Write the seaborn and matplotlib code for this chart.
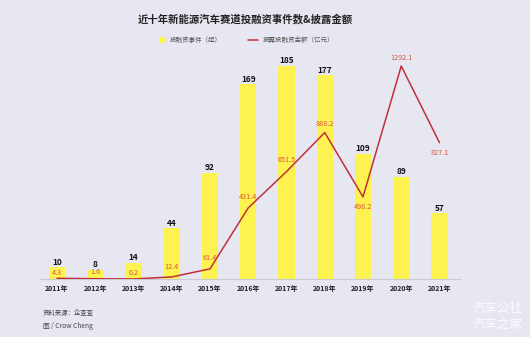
import numpy as np
import pandas as pd
import matplotlib
matplotlib.use("Agg")
import matplotlib.pyplot as plt
import seaborn as sns
from matplotlib.patches import Patch
from matplotlib.lines import Line2D

# ---- data ----
years = ["2011年", "2012年", "2013年", "2014年", "2015年", "2016年",
         "2017年", "2018年", "2019年", "2020年", "2021年"]
deal_counts = [10, 8, 14, 44, 92, 169, 185, 177, 109, 89, 57]
amounts = [4.3, 1.6, 0.2, 12.4, 61.4, 431.4, 651.5, 888.2, 498.2, 1292.1, 827.1]

title = "近十年新能源汽车赛道投融资事件数&披露金额"
bar_legend = "投融资事件（起）"
line_legend = "披露投融资金额（亿元）"
source_lines = ["资料来源：企查查", "图 / Crow Cheng"]
watermark = ["汽车公社", "汽车之家"]

BG = "#e7e7f1"
BAR = "#fdf24f"
LINE = "#c0303a"
LINE_TXT = "#d9553e"

# vertical offsets (points) of the amount labels relative to their points
amount_label_dy = [3.5, 4.5, 4.5, 7, 8, 8, 8, 6.5, -7.5, 6, -7.5]

sns.set_theme(style="white")
plt.rcParams["font.family"] = ["Noto Sans CJK SC", "DejaVu Sans"]
plt.rcParams["axes.unicode_minus"] = False

W, H = 530, 337
fig = plt.figure(figsize=(W / 100, H / 100), dpi=100, facecolor=BG)

# axes box in pixel terms
left_px, right_px, base_px, top_px = 40, 460, 279, 40
ax = fig.add_axes([left_px / W, 1 - base_px / H,
                   (right_px - left_px) / W, (base_px - top_px) / H])
ax.set_facecolor(BG)

df = pd.DataFrame({"year": years, "count": deal_counts, "amount": amounts})
sns.barplot(data=df, x="year", y="count", color=BAR, width=0.42,
            saturation=1, ax=ax, zorder=2, edgecolor="none", linewidth=0)

n = len(years)
pos = np.arange(n)
ax.set_xlim(-0.444, n - 1 + 0.536)
# tallest bar reaches 213 px above the baseline
span = base_px - top_px
ax.set_ylim(0, max(deal_counts) * span / 213)

ax2 = ax.twinx()
sns.lineplot(x=pos, y=amounts, ax=ax2, color=LINE, linewidth=1.1,
             sort=False, zorder=3)
ax2.set_ylim(0, max(amounts) * span / 213)
ax2.set_xlim(ax.get_xlim())

for a in (ax, ax2):
    for s in a.spines.values():
        s.set_visible(False)
    a.set_yticks([])
    a.set_ylabel("")
ax.set_xlabel("")
ax.spines["bottom"].set_visible(True)
ax.spines["bottom"].set_color("#c9c9d3")
ax.spines["bottom"].set_linewidth(0.8)
ax.tick_params(axis="x", length=0, pad=4.5)
for lab in ax.get_xticklabels():
    lab.set_fontsize(5.0)
    lab.set_fontweight("bold")
    lab.set_color("#222222")

# bar value labels
for x, v in zip(pos, deal_counts):
    ax.annotate(f"{v}", (x, v), xytext=(0, 0.5), textcoords="offset points",
                ha="center", va="bottom", fontsize=6.0, fontweight="bold",
                color="#111111", zorder=5)

# line value labels
for x, v, dy in zip(pos, amounts, amount_label_dy):
    ax2.annotate(f"{v}", (x, v), xytext=(0, dy), textcoords="offset points",
                 ha="center", va="center", fontsize=5.2, color=LINE_TXT,
                 zorder=6)

# title
fig.text(245 / W, 1 - 19 / H, title, ha="center", va="center",
         fontsize=7.5, fontweight="bold", color="#222222")

# two single-entry legends side by side
leg_kw = dict(frameon=False, fontsize=4.7, borderpad=0, borderaxespad=0,
              handletextpad=0.7, loc="center left")
leg1 = fig.legend([Patch(facecolor=BAR, edgecolor="none")], [bar_legend],
                  bbox_to_anchor=(159 / W, 1 - 40 / H), handlelength=1.0,
                  handleheight=1.0, **leg_kw)
leg2 = fig.legend([Line2D([0], [0], color=LINE, linewidth=1.1)], [line_legend],
                  bbox_to_anchor=(248 / W, 1 - 40 / H), handlelength=1.55,
                  **leg_kw)
for leg in (leg1, leg2):
    for t in leg.get_texts():
        t.set_color("#555555")

# source notes
fig.text(43 / W, 1 - 313 / H, source_lines[0], ha="left", va="center",
         fontsize=4.6, color="#444444")
fig.text(43 / W, 1 - 326 / H, source_lines[1], ha="left", va="center",
         fontsize=4.8, color="#444444")

# watermark
fig.text(498 / W, 1 - 308 / H, watermark[0], ha="center", va="center",
         fontsize=9, color="white", alpha=0.9)
fig.text(498 / W, 1 - 324 / H, watermark[1], ha="center", va="center",
         fontsize=9, color="white", alpha=0.9)

fig.savefig("out.png", dpi=100, facecolor=BG)
